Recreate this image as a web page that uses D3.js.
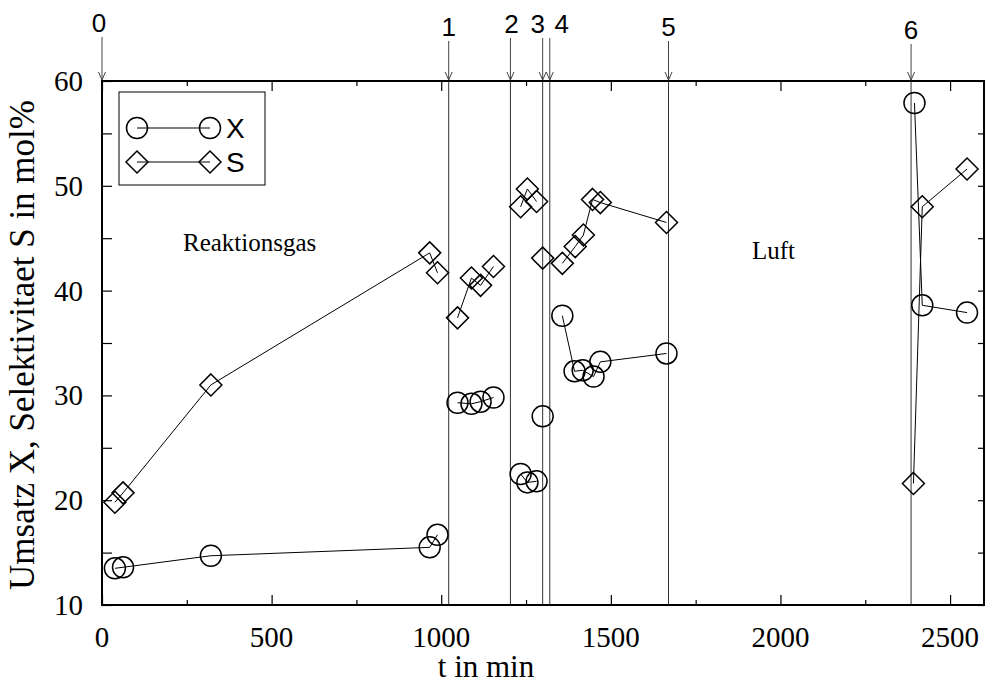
<!DOCTYPE html>
<html>
<head>
<meta charset="utf-8">
<script src="https://cdn.jsdelivr.net/npm/d3@7"></script>
<style>
  body { margin: 0; background: #fff; }
  svg { display: block; }
</style>
</head>
<body>
<div id="chart"></div>
<script>
// Umsatz X (circles), grouped in segments between the switching events
var tX   = [38, 62, 321, 966, 989,  1048, 1089, 1116, 1154,  1234, 1254, 1281,  1299,  1357, 1393, 1417, 1449, 1469, 1664,  2395, 2418, 2550];
var valX = [13.5, 13.6, 14.7, 15.5, 16.7,  29.3, 29.2, 29.4, 29.8,  22.5, 21.7, 21.8,  28.0,  37.6, 32.3, 32.4, 31.8, 33.2, 34.0,  57.9, 38.6, 37.9];
var segX = [0, 0, 0, 0, 0,  1, 1, 1, 1,  2, 2, 2,  3,  4, 4, 4, 4, 4, 4,  5, 5, 5];

// Selektivitaet S (diamonds)
var tS   = [38, 62, 321, 966, 989,  1048, 1089, 1116, 1154,  1234, 1254, 1281,  1299,  1357, 1395, 1419, 1446, 1469, 1664,  2392, 2418, 2550];
var valS = [19.8, 20.7, 31.0, 43.6, 41.7,  37.4, 41.2, 40.5, 42.3,  48.0, 49.7, 48.5,  43.1,  42.6, 44.2, 45.3, 48.7, 48.4, 46.5,  21.6, 48.0, 51.6];
var segS = [0, 0, 0, 0, 0,  1, 1, 1, 1,  2, 2, 2,  3,  4, 4, 4, 4, 4, 4,  5, 5, 5];

// events (vertical lines with numbered arrows)
var eventT     = [0, 1022, 1204, 1299, 1320, 1670, 2385];
var eventLabel = ["0", "1", "2", "3", "4", "5", "6"];

var yTicks = [10, 20, 30, 40, 50, 60];
var xTicks = [0, 500, 1000, 1500, 2000, 2500];

var width = 986,
    height = 689,
    margin = {top: 81, right: 2, bottom: 84, left: 102};

var x = d3.scaleLinear().domain([0, 2600]).range([margin.left, width - margin.right]);
var y = d3.scaleLinear().domain([10, 60]).range([height - margin.bottom, margin.top]);

var svg = d3.select("#chart").append("svg")
    .attr("width", width)
    .attr("height", height);

var serif = "'Liberation Serif', 'Times New Roman', serif";
var sans = "'Liberation Sans', Arial, sans-serif";

// event lines
svg.selectAll(".event")
    .data(eventT.slice(1))
    .enter().append("line")
    .attr("x1", function(d) { return x(d); })
    .attr("x2", function(d) { return x(d); })
    .attr("y1", y(60))
    .attr("y2", y(10))
    .attr("stroke", "#333")
    .attr("stroke-width", 1);

// arrows + numbers above the frame (small nudges so 3 and 4 don't collide)
var labelShift = {"0": [-3, 32], "1": [0, 36], "2": [1, 33], "3": [-5, 33], "4": [12, 33], "5": [0, 36], "6": [0, 39]};
var arrows = svg.selectAll(".arrow")
    .data(eventT)
    .enter().append("g")
    .attr("transform", function(d) { return "translate(" + x(d) + ",0)"; });
arrows.append("line")
    .attr("y1", function(d, i) { return labelShift[eventLabel[i]][1] + 5; })
    .attr("y2", y(60) - 1)
    .attr("stroke", "#444").attr("stroke-width", 1);
arrows.append("path")
    .attr("d", "M-3.5," + (y(60) - 9) + "L0," + (y(60) - 1) + "L3.5," + (y(60) - 9))
    .attr("fill", "none").attr("stroke", "#444").attr("stroke-width", 1);
arrows.append("text")
    .attr("x", function(d, i) { return labelShift[eventLabel[i]][0]; })
    .attr("y", function(d, i) { return labelShift[eventLabel[i]][1]; })
    .attr("text-anchor", "middle")
    .style("font-family", sans)
    .style("font-size", "26px")
    .text(function(d, i) { return eventLabel[i]; });

// axes (ticks inside the frame)
var leftAx = svg.append("g").attr("transform", "translate(" + margin.left + ",0)")
    .call(d3.axisLeft(y).tickValues(d3.range(10, 61, 5)).tickSize(-10).tickFormat(""));
var rightAx = svg.append("g").attr("transform", "translate(" + (width - margin.right) + ",0)")
    .call(d3.axisRight(y).tickValues(d3.range(10, 61, 5)).tickSize(-6).tickFormat(""));
var bottomAx = svg.append("g").attr("transform", "translate(0," + y(10) + ")")
    .call(d3.axisBottom(x).tickValues(xTicks).tickSize(-10).tickFormat(""));
var bottomMinor = svg.append("g").attr("transform", "translate(0," + y(10) + ")")
    .call(d3.axisBottom(x).tickValues(d3.range(250, 2600, 500)).tickSize(-5).tickFormat(""));
var topAx = svg.append("g").attr("transform", "translate(0," + y(60) + ")")
    .call(d3.axisTop(x).tickValues(xTicks).tickSize(-10).tickFormat(""));
var topMinor = svg.append("g").attr("transform", "translate(0," + y(60) + ")")
    .call(d3.axisTop(x).tickValues(d3.range(250, 2600, 500)).tickSize(-5).tickFormat(""));
[leftAx, rightAx, bottomAx, bottomMinor, topAx, topMinor].forEach(function(g) {
    g.select(".domain").remove();
    g.selectAll(".tick line").attr("stroke", "#000").attr("stroke-width", 1.2);
});

// tick labels
svg.selectAll(".ylab")
    .data(yTicks)
    .enter().append("text")
    .attr("x", margin.left - 19)
    .attr("y", function(d) { return y(d) + 10; })
    .attr("text-anchor", "end")
    .style("font-family", serif)
    .style("font-size", "29px")
    .text(function(d) { return d; });
svg.selectAll(".xlab")
    .data(xTicks)
    .enter().append("text")
    .attr("x", function(d) { return x(d); })
    .attr("y", y(10) + 42)
    .attr("text-anchor", "middle")
    .style("font-family", serif)
    .style("font-size", "29px")
    .text(function(d) { return d; });

// frame
svg.append("rect")
    .attr("x", x(0)).attr("y", y(60))
    .attr("width", x(2600) - x(0)).attr("height", y(10) - y(60))
    .attr("fill", "none").attr("stroke", "#000").attr("stroke-width", 2);

// axis titles
svg.append("text")
    .attr("x", (x(0) + x(2600)) / 2 - 57)
    .attr("y", 677)
    .attr("text-anchor", "middle")
    .style("font-family", serif)
    .style("font-size", "31px")
    .text("t in min");
svg.append("text")
    .attr("transform", "translate(34," + ((y(10) + y(60)) / 2 + 2) + ") rotate(-90)")
    .attr("text-anchor", "middle")
    .style("font-family", serif)
    .style("font-size", "35px")
    .text("Umsatz X, Selektivitaet S in mol%");

// annotations
svg.append("text").attr("x", 183).attr("y", 251)
    .style("font-family", serif).style("font-size", "25px").text("Reaktionsgas");
svg.append("text").attr("x", 752).attr("y", 259)
    .style("font-family", serif).style("font-size", "25px").text("Luft");

// series
var line = d3.line().x(function(d) { return x(d.t); }).y(function(d) { return y(d.v); });
function rows(ts, vs, segs) {
    return ts.map(function(t, i) { return {t: t, v: vs[i], seg: segs[i]}; });
}
var dataX = rows(tX, valX, segX),
    dataS = rows(tS, valS, segS);

var diamond = "M0,-11L11,0L0,11L-11,0Z";

[dataS, dataX].forEach(function(data) {
    var groups = d3.groups(data, function(d) { return d.seg; });
    svg.append("g").selectAll("path")
        .data(groups)
        .enter().append("path")
        .attr("d", function(g) { return line(g[1]); })
        .attr("fill", "none").attr("stroke", "#000").attr("stroke-width", 1);
});

svg.append("g").selectAll("circle")
    .data(dataX)
    .enter().append("circle")
    .attr("cx", function(d) { return x(d.t); })
    .attr("cy", function(d) { return y(d.v); })
    .attr("r", 10.5)
    .attr("fill", "none").attr("stroke", "#000").attr("stroke-width", 1.5);

svg.append("g").selectAll("path")
    .data(dataS)
    .enter().append("path")
    .attr("transform", function(d) { return "translate(" + x(d.t) + "," + y(d.v) + ")"; })
    .attr("d", diamond)
    .attr("fill", "none").attr("stroke", "#000").attr("stroke-width", 1.5);

// legend
var lg = svg.append("g");
lg.append("rect").attr("x", 119).attr("y", 92).attr("width", 146).attr("height", 93)
    .attr("fill", "#fff").attr("stroke", "#000").attr("stroke-width", 1);
lg.append("line").attr("x1", 137).attr("x2", 210).attr("y1", 128).attr("y2", 128)
    .attr("stroke", "#000");
lg.append("line").attr("x1", 137).attr("x2", 210).attr("y1", 162).attr("y2", 162)
    .attr("stroke", "#000");
[137, 210].forEach(function(cx) {
    lg.append("circle").attr("cx", cx).attr("cy", 128).attr("r", 10.5)
        .attr("fill", "none").attr("stroke", "#000").attr("stroke-width", 1.5);
    lg.append("path").attr("transform", "translate(" + cx + ",162)").attr("d", diamond)
        .attr("fill", "none").attr("stroke", "#000").attr("stroke-width", 1.5);
});
lg.append("text").attr("x", 226).attr("y", 138)
    .style("font-family", sans).style("font-size", "28px").text("X");
lg.append("text").attr("x", 226).attr("y", 172)
    .style("font-family", sans).style("font-size", "28px").text("S");
</script>
</body>
</html>
